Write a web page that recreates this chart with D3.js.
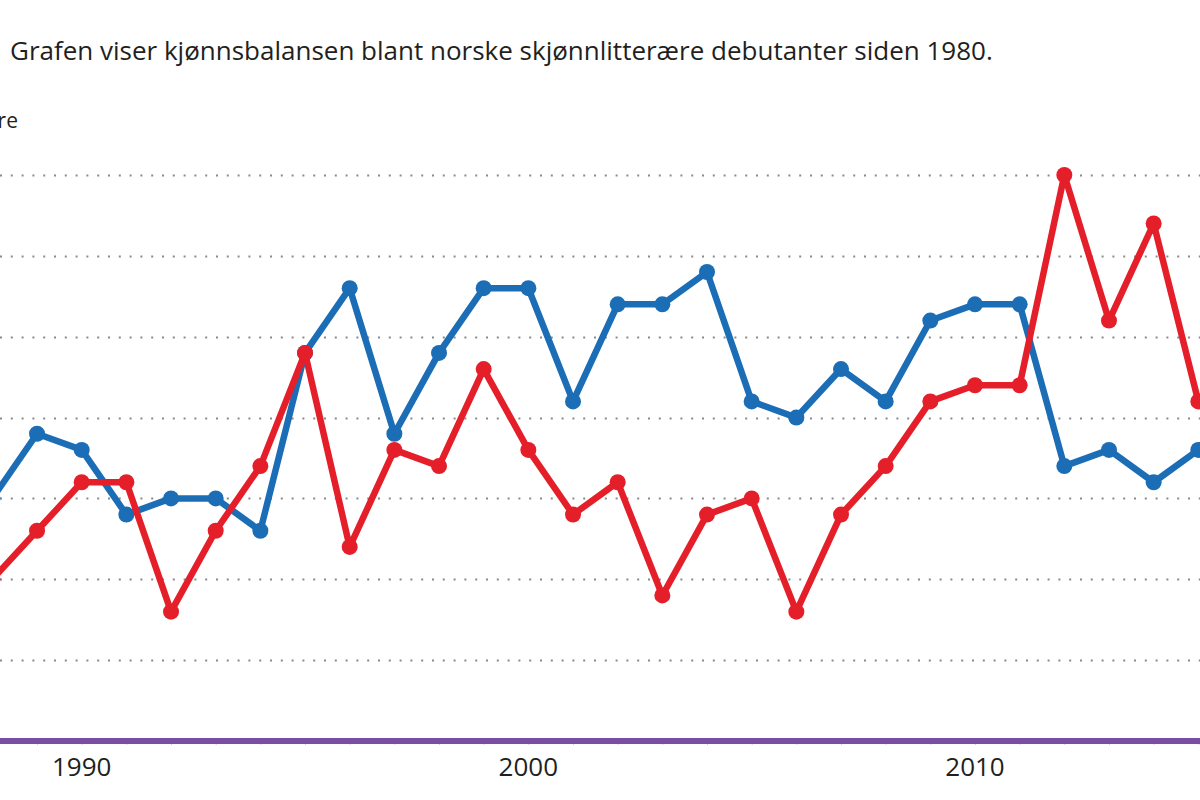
<!DOCTYPE html>
<html>
<head>
<meta charset="utf-8">
<script src="https://cdn.jsdelivr.net/npm/d3@7"></script>
<style>
  html, body { margin: 0; padding: 0; background: #fff; overflow: hidden; }
  svg { display: block; }
  text { font-family: "Open Sans", "Noto Sans", sans-serif; fill: #231f20; }
</style>
</head>
<body>
<svg id="chart" width="1200" height="800"></svg>
<script>
const title = "Grafen viser kjønnsbalansen blant norske skjønnlitterære debutanter siden 1980.";
const yAxisLabel = "Antall forfattere";
const years = [1988,1989,1990,1991,1992,1993,1994,1995,1996,1997,1998,1999,2000,2001,2002,2003,2004,2005,2006,2007,2008,2009,2010,2011,2012,2013,2014,2015];
const menValues = [15,19,18,14,15,15,13,24,28,19,24,28,28,21,27,27,29,21,20,23,21,26,27,27,17,18,16,18];
const womenValues = [10,13,16,16,8,13,17,24,12,18,17,23,18,14,16,9,14,15,8,14,17,21,22,22,35,26,32,21];
const yTicks = [5,10,15,20,25,30,35];
const xTickLabels = [1990, 2000, 2010];

const svg = d3.select("#chart");
const W = 1200, H = 800;

const x = d3.scaleLinear().domain([1990, 2010]).range([81.7, 975]);
const y = d3.scaleLinear().domain([0, 35]).range([741, 175]);

// Title
svg.append("text")
  .attr("x", 10).attr("y", 60)
  .attr("font-size", 26)
  .text(title);

// Y axis label (cropped at the left edge as in the original)
svg.append("text")
  .attr("x", 18).attr("y", 128)
  .attr("text-anchor", "end")
  .attr("font-size", 21)
  .text(yAxisLabel);

// Dotted gridlines
const grid = svg.append("g");
grid.selectAll("line").data(yTicks).join("line")
  .attr("x1", 0).attr("x2", W)
  .attr("y1", d => Math.round(y(d)) + 0.5).attr("y2", d => Math.round(y(d)) + 0.5)
  .attr("stroke", "#8a8a8a")
  .attr("stroke-width", 2)
  .attr("stroke-dasharray", "2 8.8");

// Baseline (x axis) with faint year ticks
const yearTicks = d3.range(1980, 2021);
const xAxis = d3.axisBottom(x)
  .tickValues(yearTicks)
  .tickSize(2)
  .tickFormat("");
const axisG = svg.append("g")
  .attr("transform", `translate(0,${y(0) + 2})`)
  .call(xAxis);
axisG.select(".domain").remove();
axisG.selectAll(".tick line").attr("stroke", "#d3c6e3").attr("stroke-width", 1);

svg.append("line")
  .attr("x1", 0).attr("x2", W)
  .attr("y1", y(0)).attr("y2", y(0))
  .attr("stroke", "#7a4fa3")
  .attr("stroke-width", 6);

// Year labels
svg.append("g").selectAll("text").data(xTickLabels).join("text")
  .attr("x", d => x(d)).attr("y", 776)
  .attr("text-anchor", "middle")
  .attr("font-size", 26)
  .text(d => d);

// Series
const series = [
  { name: "Menn", values: menValues, color: "#1b6db6" },
  { name: "Kvinner", values: womenValues, color: "#e51f2a" }
];

const line = d3.line()
  .x((d, i) => x(years[i]))
  .y(d => y(d));

series.forEach(s => {
  const g = svg.append("g");
  g.append("path")
    .datum(s.values)
    .attr("d", line)
    .attr("fill", "none")
    .attr("stroke", s.color)
    .attr("stroke-width", 6.5)
    .attr("stroke-linejoin", "round");
  g.selectAll("circle").data(s.values).join("circle")
    .attr("cx", (d, i) => x(years[i]))
    .attr("cy", d => y(d))
    .attr("r", 8)
    .attr("fill", s.color);
});
</script>
</body>
</html>
